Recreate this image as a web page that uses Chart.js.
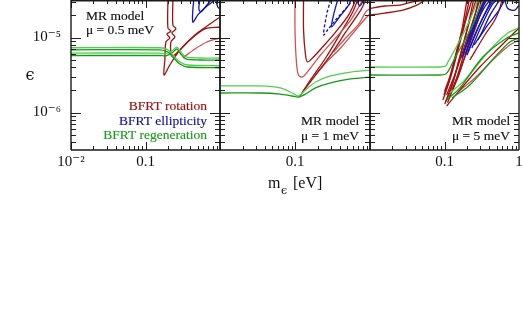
<!DOCTYPE html>
<html>
<head>
<meta charset="utf-8">
<script src="https://cdn.jsdelivr.net/npm/chart.js@4.4.0/dist/chart.umd.min.js"></script>
<style>
  body { margin: 0; background: #fff; }
  #wrap { position: relative; width: 523px; height: 324px; }
  #wrap canvas { position: absolute; left: 0; top: 0; }
</style>
</head>
<body>
<div id="wrap">
  <canvas id="p1" width="523" height="324"></canvas>
  <canvas id="p2" width="523" height="324"></canvas>
  <canvas id="p3" width="523" height="324"></canvas>
</div>
<script>
// axis ticks
const yTicks = [1e-6, 1e-5];
const yTickLabels = ['10⁻⁶', '10⁻⁵'];
const p1XTicks = [0.01, 0.1];
const p1XLabels = ['10⁻²', '0.1'];
const p2XTicks = [0.1];
const p2XLabels = ['0.1'];
const p3XTicks = [0.1, 1];
const p3XLabels = ['0.1', '1'];

// panel 1: mu = 0.5 meV   ([m in eV, epsilon])
const p1GreenA = [[0.01,7.3e-6],[0.156,7.3e-6],[0.2,6.85e-6],[0.24,5.66e-6],[0.289,4.71e-6],[0.37,4.3e-6],[1,4.2e-6]];
const p1GreenA2 = [[0.01,6.85e-6],[0.156,6.85e-6],[0.2,6.4e-6],[0.24,5.33e-6],[0.289,4.43e-6],[0.37,4.04e-6],[1,3.95e-6]];
const p1GreenB = [[0.01,6.2e-6],[0.156,6.2e-6],[0.188,6.1e-6],[0.226,6.6e-6],[0.264,7.46e-6],[0.298,6.4e-6],[0.348,5.5e-6],[0.536,5.33e-6],[1,5.33e-6]];
const p1GreenB2 = [[0.01,5.75e-6],[0.156,5.75e-6],[0.188,5.7e-6],[0.226,6.21e-6],[0.264,7.02e-6],[0.298,6.03e-6],[0.348,5.17e-6],[0.536,5.01e-6],[1,5.01e-6]];
const p1RedA = [[0.2,3.16e-5],[0.2,1.34e-5],[0.219,1.22e-5],[0.194,1.11e-5],[0.212,9.85e-6],[0.188,8.71e-6],[0.182,5.01e-6],[0.177,3.16e-6],[0.212,4.3e-6],[0.289,6.81e-6],[0.46,1.08e-5],[0.73,1.51e-5],[1,1.88e-5]];
const p1RedB = [[0.233,3.16e-5],[0.233,1.47e-5],[0.256,1.3e-5],[0.226,1.15e-5],[0.248,1.02e-5],[0.219,8.71e-6],[0.226,5.66e-6],[0.272,6.4e-6],[0.394,9.26e-6],[0.626,1.3e-5],[1,1.38e-5]];
const p1RedC = [[0.317,5.33e-6],[0.46,7.02e-6],[0.666,8.71e-6],[1,9.85e-6]];
const p1BlueA = [[0.445,3.16e-5],[0.432,2.32e-5],[0.432,1.6e-5],[0.504,2.0e-5],[0.645,2.55e-5],[0.852,3.16e-5]];
const p1BlueB = [[0.536,3.16e-5],[0.52,2.43e-5],[0.553,2.19e-5],[0.666,2.7e-5],[0.753,3.16e-5]];
const p1BlueC = [[0.879,3.16e-5],[0.934,2.55e-5],[1,2.4e-5]];

// panel 2: mu = 1 meV
const p2GreenA = [[0.01,2.26e-6],[0.0343,2.26e-6],[0.0636,2.13e-6],[0.0922,1.82e-6],[0.111,1.66e-6],[0.138,2.0e-6],[0.188,2.55e-6],[0.298,3.07e-6],[0.553,3.46e-6],[1,3.68e-6]];
const p2GreenB = [[0.01,1.82e-6],[0.0343,1.82e-6],[0.0636,1.76e-6],[0.0922,1.66e-6],[0.111,1.61e-6],[0.138,1.76e-6],[0.188,2.13e-6],[0.298,2.48e-6],[0.553,2.8e-6],[1,2.97e-6]];
const p2RedA = [[0.1,3.16e-5],[0.1,1.26e-5],[0.104,5.01e-6],[0.111,3.16e-6],[0.126,2.97e-6],[0.161,3.92e-6],[0.219,5.84e-6],[0.348,9.85e-6],[0.553,1.71e-5],[0.801,3.16e-5]];
const p2RedB = [[0.13,3.16e-5],[0.13,1.26e-5],[0.138,5.84e-6],[0.147,4.71e-6],[0.171,5.33e-6],[0.233,7.46e-6],[0.348,1.18e-5],[0.52,2.0e-5],[0.645,3.16e-5]];
const p2RedC = [[0.1145,1.61e-6],[0.161,2.72e-6],[0.256,5.33e-6],[0.406,1.15e-5],[0.588,2.19e-5],[0.686,3.16e-5]];
const p2RedD = [[0.126,1.88e-6],[0.188,3.16e-6],[0.298,5.84e-6],[0.474,1.18e-5],[0.753,2.32e-5],[0.879,3.16e-5]];
const p2RedE = [[0.188,3.16e-6],[0.256,4.57e-6],[0.406,7.24e-6],[0.645,1.26e-5],[0.879,1.82e-5],[1,2.06e-5]];
const p2RedF = [[0.327,6.4e-6],[0.474,9.85e-6],[0.708,1.51e-5],[0.879,2.19e-5],[1,2.43e-5]];
const p2BlueA = [[0.298,3.16e-5],[0.264,2.0e-5],[0.24,1.08e-5],[0.272,1.26e-5],[0.348,1.71e-5],[0.474,2.43e-5],[0.588,3.16e-5]];
const p2BlueB = [[0.37,3.16e-5],[0.327,2.0e-5],[0.307,1.38e-5],[0.382,1.82e-5],[0.52,2.7e-5],[0.553,3.16e-5]];
const p2BlueC = [[0.666,3.16e-5],[0.73,2.63e-5],[0.826,3.16e-5]];

// panel 3: mu = 5 meV
const p3GreenA = [[0.01,4.04e-6],[0.0866,4.04e-6],[0.104,4.16e-6],[0.111,4.71e-6],[0.126,5.84e-6],[0.161,9.26e-6],[0.219,1.71e-5],[0.28,3.16e-5]];
const p3GreenB = [[0.01,3.16e-6],[0.0866,3.16e-6],[0.104,3.26e-6],[0.1145,3.68e-6],[0.138,5.33e-6],[0.188,9.26e-6],[0.256,1.71e-5],[0.317,3.16e-5]];
const p3GreenC = [[0.107,1.47e-6],[0.161,2.13e-6],[0.327,5.5e-6],[0.686,9.85e-6],[1,1.15e-5]];
const p3GreenD = [[0.118,1.82e-6],[0.188,2.72e-6],[0.406,6.81e-6],[0.708,1.15e-5],[1,1.34e-5]];
const p3GreenE = [[0.126,1.56e-6],[0.219,2.33e-6],[0.474,5.5e-6],[0.753,8.71e-6],[1,9.85e-6]];
const p3RedTopA = [[0.01,2.43e-5],[0.0159,2.63e-5],[0.0253,2.7e-5],[0.0377,2.99e-5],[0.0513,3.16e-5]];
const p3RedTopB = [[0.01,2.0e-5],[0.0159,2.12e-5],[0.0277,2.32e-5],[0.0426,2.7e-5],[0.0546,3.16e-5]];
const p3RedC = [[0.0951,1.47e-6],[0.118,2.72e-6],[0.152,6.81e-6],[0.194,1.71e-5],[0.233,3.16e-5]];
const p3RedD = [[0.101,1.3e-6],[0.13,2.55e-6],[0.171,6.81e-6],[0.219,1.71e-5],[0.264,3.16e-5]];
const p3RedE = [[0.107,1.71e-6],[0.142,3.46e-6],[0.188,7.94e-6],[0.256,2.0e-5],[0.298,3.16e-5]];
const p3RedF = [[0.1145,1.56e-6],[0.156,3.16e-6],[0.219,9.26e-6],[0.298,2.32e-5],[0.338,3.16e-5]];
const p3RedG = [[0.126,2.0e-6],[0.171,4.3e-6],[0.233,9.85e-6],[0.317,2.32e-5],[0.359,3.16e-5]];
const p3RedH = [[0.098,1.71e-6],[0.111,2.33e-6],[0.138,5.01e-6],[0.171,1.26e-5],[0.2,3.16e-5]];
const p3RedI = [[0.107,1.22e-6],[0.161,2.0e-6],[0.298,4.04e-6],[0.553,7.46e-6],[1,1.34e-5]];
const p3RedJ = [[0.152,1.88e-6],[0.256,2.89e-6],[0.474,5.33e-6],[0.753,7.94e-6],[1,9.26e-6]];
const p3RedK = [[0.219,5.01e-6],[0.348,1.08e-5],[0.474,1.71e-5],[0.553,2.43e-5],[0.588,3.16e-5]];
const p3RedL = [[0.104,1.4e-6],[0.125,2.2e-6],[0.16,5.5e-6],[0.205,1.4e-5],[0.245,3.16e-5]];
const p3RedM = [[0.11,1.35e-6],[0.145,2.8e-6],[0.2,8.5e-6],[0.26,2.1e-5],[0.285,3.16e-5]];
const p3RedN = [[0.1,1.9e-6],[0.12,3.2e-6],[0.15,7.5e-6],[0.185,1.6e-5],[0.215,3.16e-5]];
const p3BlueA = [[0.171,5.33e-6],[0.219,1.08e-5],[0.28,2.0e-5],[0.348,3.16e-5]];
const p3BlueB = [[0.188,5.84e-6],[0.248,1.26e-5],[0.327,2.32e-5],[0.406,3.16e-5]];
const p3BlueC = [[0.206,6.4e-6],[0.28,1.34e-5],[0.382,2.43e-5],[0.46,3.16e-5]];
const p3BlueD = [[0.233,7.24e-6],[0.317,1.47e-5],[0.432,2.7e-5],[0.504,3.16e-5]];
const p3BlueE = [[0.28,9.26e-6],[0.382,1.47e-5],[0.52,2.19e-5],[0.645,3.16e-5]];
const p3BlueF = [[0.645,3.16e-5],[0.708,2.43e-5],[0.879,2.32e-5],[1,2.7e-5]];
const p3BlueG = [[0.18,6.2e-6],[0.235,1.2e-5],[0.3,2.2e-5],[0.37,3.16e-5]];
const p3BlueH = [[0.2,5.8e-6],[0.26,1.1e-5],[0.34,2.0e-5],[0.43,3.16e-5]];
const p3BlueI = [[0.25,8e-6],[0.3,1.05e-5],[0.41,2.0e-5],[0.55,3.16e-5]];

const RED = '#a50f0f', RED_LT = '#d25252', BLUE = '#1414b4', GREEN = '#169a16', GREEN_LT = '#4fd04f';
const FONT = "'Liberation Serif', 'DejaVu Serif', serif";
const Y_MIN = Math.pow(10, -6.5), Y_MAX = Math.pow(10, -4.5);

function curve(points, color, dash) {
  return {
    data: points.map(p => ({ x: p[0], y: p[1] })),
    borderColor: color,
    borderWidth: 1.3,
    borderDash: dash || [],
    pointRadius: 0,
    tension: 0.3,
    fill: false,
    clip: 0
  };
}

// text placed on each panel (canvas pixels)
const NOTES = {
  p1: [
    { text: 'MR model', x: 86, y: 20, color: '#111' },
    { text: 'μ = 0.5 meV', x: 86, y: 34, color: '#111' },
    { text: 'BFRT rotation', x: 207, y: 110, color: '#a01010', align: 'right' },
    { text: 'BFRT ellipticity', x: 207, y: 124.5, color: '#1010a8', align: 'right' },
    { text: 'BFRT regeneration', x: 207, y: 139, color: '#1a9e1a', align: 'right' }
  ],
  p2: [
    { text: 'MR model', x: 301, y: 125, color: '#111' },
    { text: 'μ = 1 meV', x: 301, y: 139.5, color: '#111' }
  ],
  p3: [
    { text: 'MR model', x: 452, y: 125, color: '#111' },
    { text: 'μ = 5 meV', x: 452, y: 139.5, color: '#111' }
  ]
};

const frame = {
  id: 'frame',
  afterDraw(chart) {
    const { ctx, chartArea: a } = chart;
    const xs = chart.scales.x, ys = chart.scales.y;
    ctx.save();
    ctx.strokeStyle = '#222';
    ctx.lineWidth = 1;
    ctx.beginPath();
    for (const d of [0.01, 0.1]) {
      for (let k = 1; k <= 9; k++) {
        const px = Math.round(xs.getPixelForValue(k * d)) + 0.5;
        const len = k === 1 ? 8 : 4;
        ctx.moveTo(px, a.bottom); ctx.lineTo(px, a.bottom - len);
        ctx.moveTo(px, a.top); ctx.lineTo(px, a.top + len);
      }
    }
    for (const d of [1e-7, 1e-6, 1e-5]) {
      for (let k = 1; k <= 9; k++) {
        const v = k * d;
        if (v < ys.min || v > ys.max) continue;
        const py = Math.round(ys.getPixelForValue(v)) + 0.5;
        const len = k === 1 ? 10 : 5;
        ctx.moveTo(a.left, py); ctx.lineTo(a.left + len, py);
        ctx.moveTo(a.right, py); ctx.lineTo(a.right - len, py);
      }
    }
    ctx.stroke();
    ctx.lineWidth = 1.4;
    ctx.strokeStyle = '#1a1a1a';
    ctx.beginPath();
    ctx.moveTo(a.left, a.top + 0.7); ctx.lineTo(a.right, a.top + 0.7);
    ctx.moveTo(a.left, a.top); ctx.lineTo(a.left, a.bottom);
    ctx.moveTo(a.right, a.top); ctx.lineTo(a.right, a.bottom);
    ctx.moveTo(a.left, a.bottom); ctx.lineTo(a.right, a.bottom);
    ctx.stroke();

    ctx.textBaseline = 'alphabetic';
    ctx.font = '13.5px ' + FONT;
    ctx.lineWidth = 0.15;
    for (const n of NOTES[chart.canvas.id] || []) {
      ctx.fillStyle = n.color;
      ctx.strokeStyle = n.color;
      ctx.textAlign = n.align || 'left';
      ctx.fillText(n.text, n.x, n.y);
      ctx.strokeText(n.text, n.x, n.y);
    }
    if (chart.canvas.id === 'p1') {
      ctx.fillStyle = '#111';
      ctx.textAlign = 'center';
      ctx.font = "16px 'DejaVu Serif', serif";
      ctx.fillText('ϵ', 30, 80);
    }
    if (chart.canvas.id === 'p2') {
      ctx.fillStyle = '#111';
      ctx.textAlign = 'left';
      ctx.font = '16px ' + FONT;
      ctx.fillText('m', 268, 188);
      ctx.font = "11px 'DejaVu Serif', serif";
      ctx.fillText('ϵ', 281, 194);
      ctx.font = '16px ' + FONT;
      ctx.fillText('[eV]', 293, 188);
    }
    ctx.restore();
  }
};

function makePanel(id, sets, xTicks, xLabels, pad, showY) {
  return new Chart(document.getElementById(id), {
    type: 'line',
    data: { datasets: sets },
    options: {
      responsive: false,
      animation: false,
      layout: { padding: pad },
      plugins: { legend: { display: false }, tooltip: { enabled: false } },
      scales: {
        x: {
          type: 'logarithmic', min: 0.01, max: 1,
          grid: { display: false, drawTicks: false }, border: { display: false },
          afterBuildTicks: s => { s.ticks = xTicks.map(v => ({ value: v })); },
          afterFit: s => { s.height = 174; s.paddingLeft = 0; s.paddingRight = 0; s.paddingTop = 0; s.paddingBottom = 0; },
          ticks: { autoSkip: false, maxRotation: 0, padding: 3, color: '#111',
                   font: { family: FONT, size: 15 }, callback: (v, i) => xLabels[i] }
        },
        y: {
          type: 'logarithmic', min: Y_MIN, max: Y_MAX, display: showY,
          grid: { display: false, drawTicks: false }, border: { display: false },
          afterBuildTicks: s => { s.ticks = yTicks.map(v => ({ value: v })); },
          afterFit: s => { s.width = showY ? 71 : 0; s.paddingLeft = 0; s.paddingRight = 0; s.paddingTop = 0; s.paddingBottom = 0; },
          ticks: { autoSkip: false, padding: 10, color: '#111',
                   font: { family: FONT, size: 15 }, callback: (v, i) => yTickLabels[i] }
        }
      }
    },
    plugins: [frame]
  });
}

makePanel('p1', [
  curve(p1GreenA, GREEN_LT), curve(p1GreenA2, GREEN), curve(p1GreenB, GREEN_LT), curve(p1GreenB2, GREEN),
  curve(p1BlueA, BLUE), curve(p1BlueB, BLUE), curve(p1BlueC, BLUE),
  curve(p1RedA, RED), curve(p1RedB, RED), curve(p1RedC, RED_LT)
], p1XTicks, p1XLabels, { left: 0, right: 303, top: 0, bottom: 0 }, true);

makePanel('p2', [
  curve(p2GreenA, GREEN_LT), curve(p2GreenB, GREEN),
  curve(p2BlueA, BLUE, [3, 2]), curve(p2BlueB, BLUE), curve(p2BlueC, BLUE),
  curve(p2RedA, RED_LT), curve(p2RedB, RED), curve(p2RedC, RED), curve(p2RedD, RED),
  curve(p2RedE, RED_LT), curve(p2RedF, RED_LT)
], p2XTicks, p2XLabels, { left: 220, right: 153, top: 0, bottom: 0 }, false);

makePanel('p3', [
  curve(p3GreenA, GREEN_LT), curve(p3GreenB, GREEN), curve(p3GreenC, GREEN), curve(p3GreenD, GREEN_LT), curve(p3GreenE, GREEN),
  curve(p3BlueA, BLUE), curve(p3BlueB, BLUE), curve(p3BlueC, BLUE), curve(p3BlueD, BLUE), curve(p3BlueE, BLUE), curve(p3BlueF, BLUE),
  curve(p3BlueG, BLUE), curve(p3BlueH, BLUE), curve(p3BlueI, BLUE),
  curve(p3RedTopA, RED), curve(p3RedTopB, RED),
  curve(p3RedC, RED), curve(p3RedD, RED), curve(p3RedE, RED), curve(p3RedF, RED), curve(p3RedG, RED), curve(p3RedH, RED),
  curve(p3RedL, RED), curve(p3RedM, RED), curve(p3RedN, RED),
  curve(p3RedI, RED), curve(p3RedJ, RED_LT), curve(p3RedK, RED)
], p3XTicks, p3XLabels, { left: 370, right: 4, top: 0, bottom: 0 }, false);
</script>
</body>
</html>
